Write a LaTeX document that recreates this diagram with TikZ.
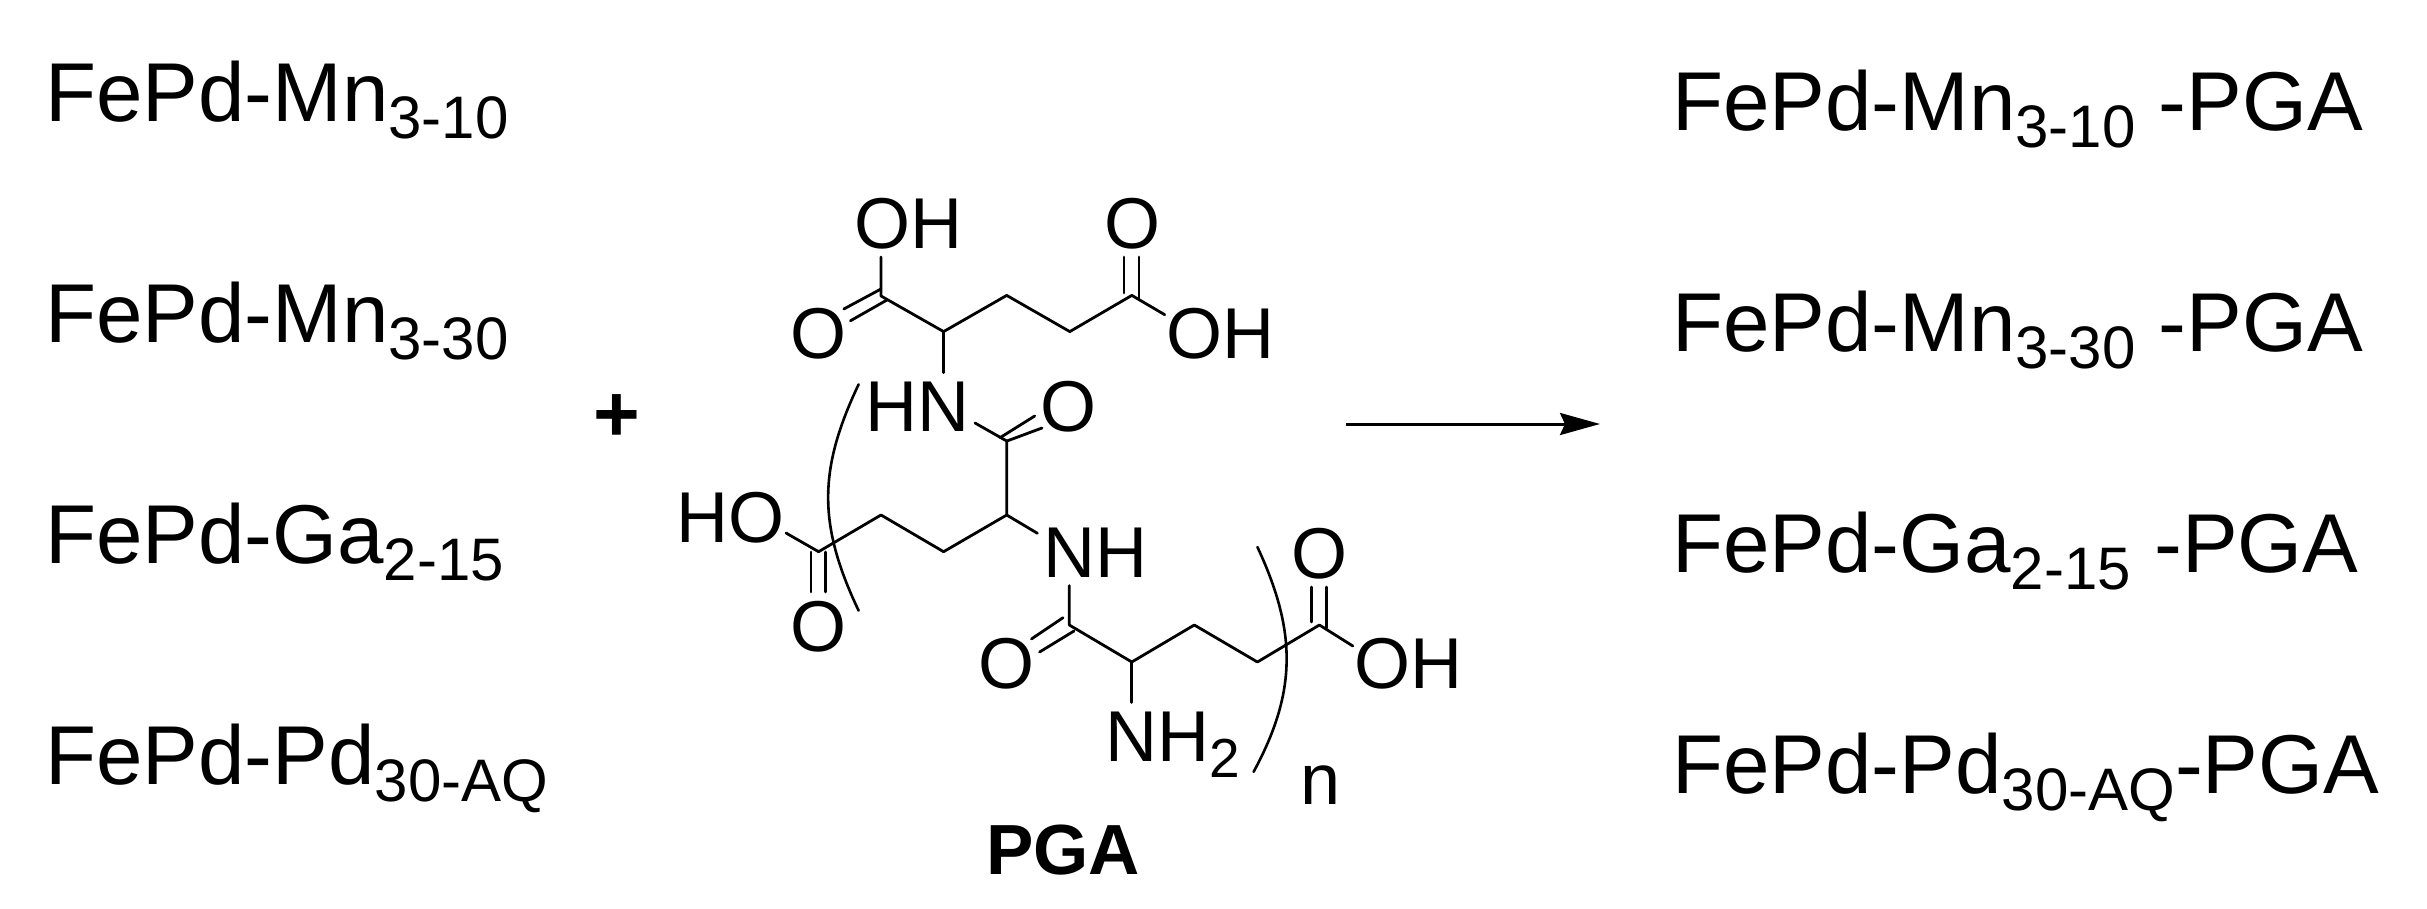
\documentclass[tikz,border=0pt]{standalone}
\usepackage{fontspec}
\setmainfont{Liberation Sans}
\usetikzlibrary{arrows.meta}
\newcommand\bigsub[1]{\raisebox{-17pt}{\fontsize{60}{60}\selectfont #1}}
\newcommand\atomsub[1]{\raisebox{-16pt}{\fontsize{55}{55}\selectfont #1}}
\tikzset{
  x=1pt,y=-1pt,
  sample/.style={anchor=base west,inner sep=0pt,font=\fontsize{83.5}{90}\selectfont},
  atomw/.style={anchor=base west,inner sep=0pt,font=\fontsize{72}{80}\selectfont},
  atomc/.style={anchor=base,inner sep=0pt,font=\fontsize{72}{80}\selectfont},
  caption/.style={anchor=base,inner sep=0pt,font=\fontsize{71}{76}\selectfont\bfseries},
  bond/.style={draw=black,line width=2.8pt,line cap=round,line join=round},
  bracket/.style={draw=black,line width=2.6pt,line cap=round},
  rxn/.style={draw=black,line width=3pt,-{Stealth[length=40pt,width=22pt,inset=5pt]}}
}
\begin{document}
\begin{tikzpicture}
\useasboundingbox (0,0) rectangle (2427,909);
% left column
\node[sample] (a1) at (45,122) {FePd-Mn\bigsub{3-10}};
\node[sample] (a2) at (45,342) {FePd-Mn\bigsub{3-30}};
\node[sample] (a3) at (45,563) {FePd-Ga\bigsub{2-15}};
\node[sample] (a4) at (45,784) {FePd-Pd\bigsub{30-AQ}};
% right column
\node[sample] (b1) at (1672,131) {FePd-Mn\bigsub{3-10} -PGA};
\node[sample] (b2) at (1672,351) {FePd-Mn\bigsub{3-30} -PGA};
\node[sample] (b3) at (1672,572) {FePd-Ga\bigsub{2-15} -PGA};
\node[sample] (b4) at (1672,793) {FePd-Pd\bigsub{30-AQ}-PGA};
% plus
\node[anchor=base,inner sep=0pt,font=\fontsize{80}{90}\selectfont\bfseries] (plus) at (617,441) {+};
% arrow
\coordinate (rs) at (1346,424);
\coordinate (re) at (1600,424);
\draw[rxn] (rs) -- (re);
% atom labels
\node[atomw] (oh1) at (854,249) {OH};
\node[atomc] (o1) at (1132,249) {O};
\node[atomc] (o2) at (818.6,358.5) {O};
\node[atomw] (oh2) at (1166.5,358.5) {OH};
\node[atomw] (hn) at (865,431.5) {HN};
\node[atomc] (o3) at (1068.7,431.5) {O};
\node[atomw] (ho) at (676,542) {HO};
\node[atomw] (nh) at (1043,577.6) {NH};
\node[atomc] (o4) at (818.6,651.6) {O};
\node[atomc] (o5) at (1319.4,578.6) {O};
\node[atomc] (o6) at (1006.7,688.4) {O};
\node[atomw] (oh3) at (1354.5,688.4) {OH};
\node[atomw] (nh2) at (1105.5,761.4) {NH\atomsub{2}};
\node[atomw] (n) at (1300,804.8) {n};
\node[caption] (pga) at (1063,874.5) {PGA};
% skeleton carbons
\coordinate (c1) at (881,296);
\coordinate (ca1) at (943.6,331.6);
\coordinate (cb1) at (1006.7,295.4);
\coordinate (cg1) at (1069.8,331.6);
\coordinate (cd1) at (1131.8,295.4);
\coordinate (c2) at (1006.7,441);
\coordinate (ca2) at (1006.7,515);
\coordinate (cb2) at (943.6,551.7);
\coordinate (cg2) at (881,515);
\coordinate (cd2) at (818.6,551.7);
\coordinate (c3) at (1069.3,625);
\coordinate (ca3) at (1131.8,662);
\coordinate (cb3) at (1194.3,625);
\coordinate (cg3) at (1257.4,662);
\coordinate (cd3) at (1319.4,625);
% bond ends at heteroatoms
\coordinate (e1) at (881,257);
\coordinate (e2) at (1164.7,314.7);
\coordinate (e3) at (943.6,372.6);
\coordinate (e4) at (975,423);
\coordinate (e5) at (786,533);
\coordinate (e6) at (1037.4,533.3);
\coordinate (e7) at (1069.3,585.6);
\coordinate (e8) at (1352.8,646);
\coordinate (e9) at (1131.8,702.5);
% double-bond ends
\coordinate (d1a) at (881,289); \coordinate (d1b) at (843.8,309);
\coordinate (d1c) at (887,300); \coordinate (d1d) at (850.4,320.8);
\coordinate (d2a) at (1124,293); \coordinate (d2b) at (1124,257);
\coordinate (d2c) at (1139,298); \coordinate (d2d) at (1139,257);
\coordinate (d3a) at (1000,437.7); \coordinate (d3b) at (1034.7,416);
\coordinate (d3c) at (1007,441); \coordinate (d3d) at (1042,428);
\coordinate (d4a) at (811,552); \coordinate (d4b) at (811,592);
\coordinate (d4c) at (825.7,552); \coordinate (d4d) at (825.7,592);
\coordinate (d5a) at (1063,617.7); \coordinate (d5b) at (1031.4,639);
\coordinate (d5c) at (1074,631); \coordinate (d5d) at (1039.6,652);
\coordinate (d6a) at (1311.7,622); \coordinate (d6b) at (1311.7,587);
\coordinate (d6c) at (1326.5,628); \coordinate (d6d) at (1326.5,587);
% bonds
\draw[bond] (e1) -- (c1) -- (ca1) -- (cb1) -- (cg1) -- (cd1) -- (e2);
\draw[bond] (d1a) -- (d1b);
\draw[bond] (d1c) -- (d1d);
\draw[bond] (d2a) -- (d2b);
\draw[bond] (d2c) -- (d2d);
\draw[bond] (ca1) -- (e3);
\draw[bond] (e4) -- (c2) -- (ca2) -- (cb2) -- (cg2) -- (cd2) -- (e5);
\draw[bond] (d3a) -- (d3b);
\draw[bond] (d3c) -- (d3d);
\draw[bond] (d4a) -- (d4b);
\draw[bond] (d4c) -- (d4d);
\draw[bond] (ca2) -- (e6);
\draw[bond] (e7) -- (c3) -- (ca3) -- (cb3) -- (cg3) -- (cd3) -- (e8);
\draw[bond] (d5a) -- (d5b);
\draw[bond] (d5c) -- (d5d);
\draw[bond] (d6a) -- (d6b);
\draw[bond] (d6c) -- (d6d);
\draw[bond] (ca3) -- (e9);
% repeat-unit brackets
\coordinate (p1) at (858.6,384.4);
\coordinate (p2) at (858.6,610.6);
\coordinate (q1) at (1257.4,547);
\coordinate (q2) at (1253.6,771.8);
\draw[bracket] (p1) .. controls (818,470) and (818,525) .. (p2);
\draw[bracket] (q1) .. controls (1296,630) and (1298,690) .. (q2);
\end{tikzpicture}
\end{document}
